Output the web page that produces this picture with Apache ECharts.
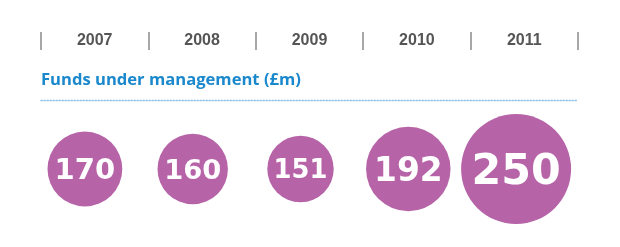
<!DOCTYPE html>
<html>
<head>
<meta charset="utf-8">
<script src="https://cdn.jsdelivr.net/npm/echarts@6/dist/echarts.min.js"></script>
<style>
html,body{margin:0;padding:0;background:#fff;}
#c{width:620px;height:247px;}
</style>
</head>
<body>
<div id="c"></div>
<script>
const years = ['2007', '2008', '2009', '2010', '2011'];
const funds = [170, 160, 151, 192, 250];
const titleText = 'Funds under management (£m)';

const chart = echarts.init(document.getElementById('c'), null, {renderer: 'canvas'});
const purple = '#b663a8';

chart.setOption({
  animation: false,
  backgroundColor: '#ffffff',
  title: {
    text: titleText,
    left: 36,
    top: 67,
    textStyle: {fontFamily: 'Open Sans', fontWeight: 'bold', fontSize: 16.6, color: '#1a88cc'}
  },
  grid: [
    {left: 41, right: 42, top: 50, bottom: 150},
    {left: 31, right: 50, top: 114, bottom: 23},
    {left: 41, right: 42, top: 10, bottom: 146.5}
  ],
  xAxis: [
    {
      gridIndex: 0, type: 'category', data: years, position: 'top',
      boundaryGap: true,
      axisLine: {show: false, onZero: false},
      axisTick: {show: true, inside: false, length: 18, interval: 0, lineStyle: {color: '#8a8a8a', width: 1.5}},
      axisLabel: {show: true, interval: 0, margin: 9, verticalAlign: 'middle', fontFamily: 'Liberation Sans', fontWeight: 'bold', fontSize: 16, color: '#555555'}
    },
    {
      gridIndex: 2, type: 'category', data: years, position: 'bottom',
      axisLine: {show: true, onZero: false, lineStyle: {color: '#88bfe4', type: [1.3, 1.7], width: 1.3}},
      axisTick: {show: false}, axisLabel: {show: false}
    },
    {
      gridIndex: 1, type: 'category', data: years, boundaryGap: true,
      axisLine: {show: false, onZero: false}, axisTick: {show: false}, axisLabel: {show: false}
    }
  ],
  yAxis: [
    {gridIndex: 0, type: 'value', show: false, splitLine: {show: false}},
    {gridIndex: 1, type: 'value', min: -1, max: 1, show: false, splitLine: {show: false}},
    {gridIndex: 2, type: 'value', show: false, splitLine: {show: false}}
  ],
  series: [
    {
      type: 'scatter',
      xAxisIndex: 2, yAxisIndex: 1,
      data: years.map((y, i) => ({
        value: [y, 0, funds[i]],
        label: {fontSize: funds[i] * 0.171, offset: [0, funds[i] * 0.017]}
      })),
      symbol: 'circle',
      symbolSize: d => d[2] * 0.44,
      itemStyle: {color: purple, opacity: 1},
      label: {
        show: true, position: 'inside',
        formatter: p => String(p.value[2]),
        fontFamily: 'DejaVu Sans', fontWeight: 'bold', color: '#ffffff'
      },
      emphasis: {disabled: true}
    }
  ]
});
</script>
</body>
</html>
